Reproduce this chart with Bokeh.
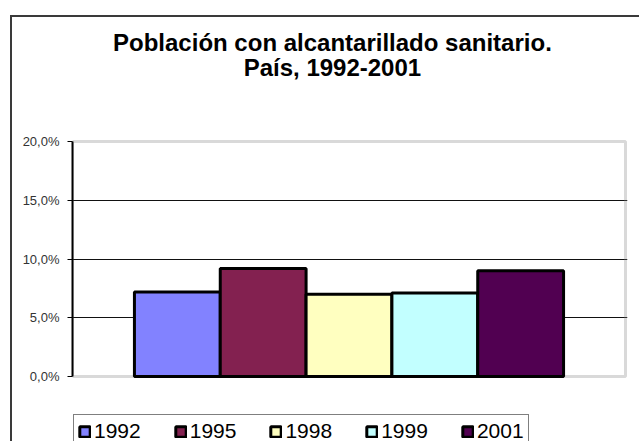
from bokeh.plotting import figure
from bokeh.models import (ColumnDataSource, Range1d, FixedTicker, Label, Legend,
                          LegendItem, BoxAnnotation, InlineStyleSheet)
from bokeh.embed import file_html
from bokeh.resources import INLINE

# ---- data ----
years = ["1992", "1995", "1998", "1999", "2001"]
values = [7.2, 9.2, 7.0, 7.1, 9.0]
colors = ["#8282FF", "#832150", "#FFFFC0", "#C2FFFF", "#510051"]
tick_values = [0, 5, 10, 15, 20]
tick_labels = ["0,0%", "5,0%", "10,0%", "15,0%", "20,0%"]
title_lines = ["Población con alcantarillado sanitario.", "País, 1992-2001"]

FONT = "Liberation Sans"

# ---- layout (pixels) ----
W, H = 639, 441
plot_left, plot_right, plot_top, plot_zero = 72, 625, 141, 376
y_max = tick_values[-1]
px_per_unit = (plot_zero - plot_top) / y_max
plot_w = plot_right - plot_left
frame_right = plot_right + 2

bar_w = 0.1552
n = len(years)
xs = [0.5 + (i - (n - 1) / 2) * bar_w for i in range(n)]
src = ColumnDataSource(dict(x=xs, top=values, year=years, color=colors))

frame_css = InlineStyleSheet(css="""
:host { position: relative; }
:host::after {
  content: ''; position: absolute; left: 10px; top: 15px; right: 0; bottom: 0;
  border-left: 2px solid #3a3a3a; border-top: 2px solid #3a3a3a;
  pointer-events: none; z-index: 10;
}
""")

p = figure(width=W, height=H, output_backend="svg", toolbar_location=None,
           x_range=Range1d(0, (frame_right - plot_left) / plot_w),
           y_range=Range1d(-(H - plot_zero) / px_per_unit, y_max + plot_top / px_per_unit),
           min_border_left=plot_left, min_border_top=0, min_border_right=W - frame_right,
           min_border_bottom=0, x_axis_location=None, stylesheets=[frame_css])
p.title.visible = False
p.background_fill_color = "white"
p.border_fill_color = "white"
p.outline_line_color = None

p.xgrid.visible = False
p.ygrid.ticker = FixedTicker(ticks=tick_values[1:-1])
p.ygrid.grid_line_color = "#111111"
p.ygrid.grid_line_width = 1

yax = p.yaxis[0]
yax.ticker = FixedTicker(ticks=tick_values)
yax.bounds = (tick_values[0], tick_values[-1])
yax.major_label_overrides = {v: l for v, l in zip(tick_values, tick_labels)}
yax.axis_line_color = "black"
yax.axis_line_width = 2
yax.major_tick_line_color = "black"
yax.major_tick_line_width = 1
yax.major_tick_out = 5
yax.major_tick_in = 0
yax.minor_tick_line_color = None
yax.major_label_standoff = 8
yax.major_label_text_font = FONT
yax.major_label_text_font_size = "13px"
yax.major_label_text_color = "#333333"

# plot-area border (gray top/right/bottom)
p.add_layout(BoxAnnotation(left=0, right=1, bottom=tick_values[0], top=y_max,
                           fill_alpha=0, line_color="#808080", line_width=3,
                           level="underlay"))

r = p.vbar(x="x", top="top", bottom=0, width=bar_w, source=src,
           fill_color="color", line_color="black", line_width=3)

legend = Legend(items=[LegendItem(label=y, renderers=[r], index=i)
                       for i, y in enumerate(years)])
legend.orientation = "horizontal"
legend.location = (1, -7)
legend.border_line_color = "black"
legend.border_line_width = 1
legend.background_fill_color = "white"
legend.background_fill_alpha = 1
legend.label_text_font = FONT
legend.label_text_font_size = "21px"
legend.label_text_color = "black"
legend.glyph_width = 13
legend.glyph_height = 13
legend.label_standoff = 3
legend.spacing = 33
legend.padding = 4
legend.margin = 0
legend.label_height = 18
p.add_layout(legend, "center")

# title lines
for t, base_px in zip(title_lines, [42, 67]):
    p.add_layout(Label(x=0.47, y=H - base_px, x_units="data", y_units="screen",
                       text=t, text_align="center", text_baseline="alphabetic",
                       text_font=FONT, text_font_size="24px",
                       text_font_style="bold", text_color="black"))

open("out.html", "w").write(file_html(p, INLINE))
